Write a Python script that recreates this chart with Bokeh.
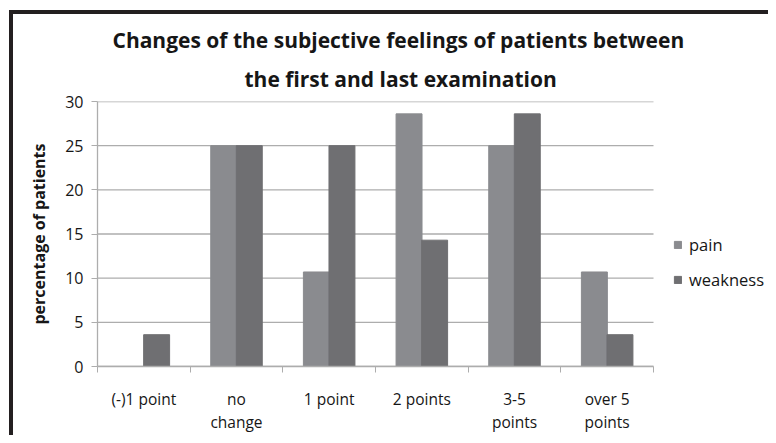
import numpy as np
from bokeh.plotting import figure
from bokeh.models import (ColumnDataSource, FixedTicker, Range1d, Legend, LegendItem, Title)
from bokeh.transform import dodge
from bokeh.embed import file_html
from bokeh.resources import INLINE

categories = ["(-)1 point", "no\nchange", "1 point", "2 points", "3-5\npoints", "over 5\npoints"]
pain = [0, 25, 10.7, 28.6, 25, 10.7]
weakness = [3.6, 25, 25, 14.3, 28.6, 3.6]
y_ticks = [0, 5, 10, 15, 20, 25, 30]

FONT = "Open Sans"
PAIN_C = "#8a8b8f"
WEAK_C = "#6f6f72"
GRID_C = "#adadad"
TXT_C = "#161616"
BORDER_C = "#231f20"

W, H = 768, 435
FRAME_L, FRAME_R, FRAME_T, FRAME_B = 97, 653, 101, 367
n = len(categories)
x_end = n * (W - FRAME_L) / (FRAME_R - FRAME_L)

xpos = np.arange(n) + 0.5
src = ColumnDataSource(dict(x=xpos, pain=pain, weakness=weakness))
grid_src = ColumnDataSource(dict(y=y_ticks, x0=[0] * len(y_ticks), x1=[n] * len(y_ticks)))

p = figure(width=W, height=H, output_backend="svg", toolbar_location=None,
           x_range=Range1d(0, x_end), y_range=Range1d(0, 30),
           min_border_left=FRAME_L, min_border_right=0, min_border_top=FRAME_T,
           min_border_bottom=H - FRAME_B)
p.styles = {
    "background": (f"linear-gradient({BORDER_C},{BORDER_C}) 9px 10px / 4px calc(100% - 10px) no-repeat, "
                   f"linear-gradient({BORDER_C},{BORDER_C}) 9px 10px / calc(100% - 9px) 4px no-repeat, white"),
}
p.outline_line_color = None
p.background_fill_color = "white"
p.border_fill_alpha = 0
p.xgrid.grid_line_color = None
p.ygrid.grid_line_color = None

# horizontal gridlines limited to the category span
p.segment(x0="x0", x1="x1", y0="y", y1="y", source=grid_src, line_color=GRID_C, line_width=1.3)

r1 = p.vbar(x=dodge("x", -0.138, range=p.x_range), top="pain", width=0.28, source=src,
            fill_color=PAIN_C, line_color=PAIN_C)
r2 = p.vbar(x=dodge("x", 0.138, range=p.x_range), top="weakness", width=0.28, source=src,
            fill_color=WEAK_C, line_color=WEAK_C)

# x axis
xa = p.xaxis[0]
xa.bounds = (0, n)
xa.ticker = FixedTicker(ticks=list(xpos), minor_ticks=list(range(n + 1)))
xa.major_label_overrides = {float(x): c for x, c in zip(xpos, categories)}
xa.major_tick_out = 0
xa.major_tick_in = 0
xa.minor_tick_out = 6
xa.minor_tick_in = 0
xa.minor_tick_line_color = GRID_C
xa.axis_line_color = GRID_C
xa.axis_line_width = 1.3
xa.major_label_text_font = FONT
xa.major_label_text_font_size = "15.5px"
xa.major_label_text_color = TXT_C
xa.major_label_text_line_height = 1.05
xa.major_label_standoff = 15

# y axis
ya = p.yaxis[0]
ya.ticker = FixedTicker(ticks=y_ticks)
ya.minor_tick_line_color = None
ya.major_tick_out = 6
ya.major_tick_in = 0
ya.major_tick_line_color = GRID_C
ya.axis_line_color = GRID_C
ya.axis_line_width = 1.3
ya.major_label_text_font = FONT
ya.major_label_text_font_size = "16px"
ya.major_label_text_color = TXT_C
ya.major_label_standoff = 8
ya.axis_label = "percentage of patients"
ya.axis_label_text_font = FONT
ya.axis_label_text_font_size = "16px"
ya.axis_label_text_font_style = "bold"
ya.axis_label_text_color = TXT_C
ya.axis_label_standoff = 12

# titles (first added is closest to plot); left-aligned with offsets so they centre near x=400
t2 = Title(text="the first and last examination", align="left", offset=147, text_font=FONT,
           text_font_size="21px", text_font_style="bold", text_color=TXT_C, standoff=18)
t1 = Title(text="Changes of the subjective feelings of patients between", align="left",
           offset=15, text_font=FONT, text_font_size="21px", text_font_style="bold",
           text_color=TXT_C, standoff=0)
p.title = None
p.add_layout(t2, "above")
p.add_layout(t1, "above")

legend = Legend(items=[LegendItem(label="pain", renderers=[r1]),
                       LegendItem(label="weakness", renderers=[r2])],
                location=(673 - FRAME_L, 75), border_line_color=None, background_fill_alpha=0,
                glyph_width=9, glyph_height=9, label_standoff=7, spacing=12,
                padding=0, margin=0, label_text_font=FONT, label_text_font_size="16.5px",
                label_text_color=TXT_C)
p.add_layout(legend)

open("out.html", "w").write(file_html(p, INLINE))
